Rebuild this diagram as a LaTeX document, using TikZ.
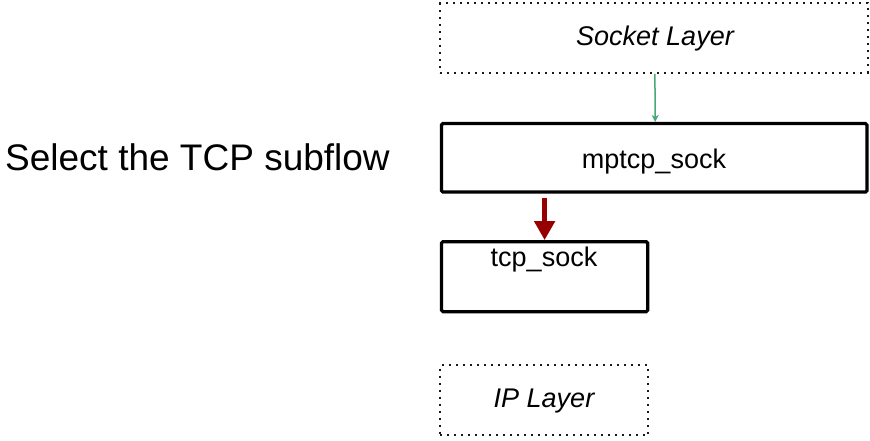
\documentclass[tikz,border=0pt]{standalone}
\usepackage{fontspec}
\setmainfont{Liberation Sans}
\usetikzlibrary{arrows.meta}

\definecolor{flowgreen}{RGB}{74,168,116}
\definecolor{flowred}{RGB}{150,0,0}

\tikzset{
  solidbox/.style={draw=black, line width=3.2pt, rounded corners=1.5pt,
                   rectangle, inner sep=0pt},
  dotbox/.style={draw=black!90, line width=2pt,
                 dash pattern=on 2pt off 5pt, rectangle, inner sep=0pt},
  lbl/.style={inner sep=0pt, anchor=base, font=\fontsize{27}{32}\selectfont},
  lyr/.style={lbl, font=\fontsize{27}{32}\selectfont\itshape},
  thin arrow/.style={draw=flowgreen, line width=1.5pt,
                     -{Stealth[length=7pt,width=7pt,inset=2pt]}, fill=flowgreen},
  thick arrow/.style={draw=flowred, line width=5.5pt,
                      -{Triangle[length=19pt,width=20pt]}, fill=flowred}
}

\begin{document}
\begin{tikzpicture}[x=1pt, y=-1pt]
  \useasboundingbox (0,0) rectangle (870,440);

  % caption on the left
  \node[lbl, anchor=base west, font=\fontsize{37}{44}\selectfont]
    (caption) at (5,170) {Select the TCP subflow};

  % socket layer (dotted)
  \node[dotbox, minimum width=427.5pt, minimum height=69.5pt]
    (socket) at (653.9,38) {};
  \node[lyr] (sockettxt) at (655,45) {Socket Layer};

  % mptcp_sock
  \node[solidbox, minimum width=425.5pt, minimum height=68.5pt]
    (mptcp) at (654.2,157.8) {};
  \node[lbl] (mptcptxt) at (654,168.3) {mptcp\_sock};

  % tcp_sock
  \node[solidbox, minimum width=206.2pt, minimum height=70pt]
    (tcp) at (544.6,276.7) {};
  \node[lbl] (tcptxt) at (544,266) {tcp\_sock};

  % IP layer (dotted)
  \node[dotbox, minimum width=208.3pt, minimum height=70pt]
    (ip) at (544.2,400.2) {};
  \node[lyr] (iptxt) at (544,407.7) {IP Layer};

  % connectors
  \draw[thin arrow] ([xshift=1pt]socket.south) -- ([xshift=1pt]mptcp.north);
  \draw[thick arrow] ([yshift=-4pt]mptcp.south -| tcp.north) -- (tcp.north);
\end{tikzpicture}
\end{document}
